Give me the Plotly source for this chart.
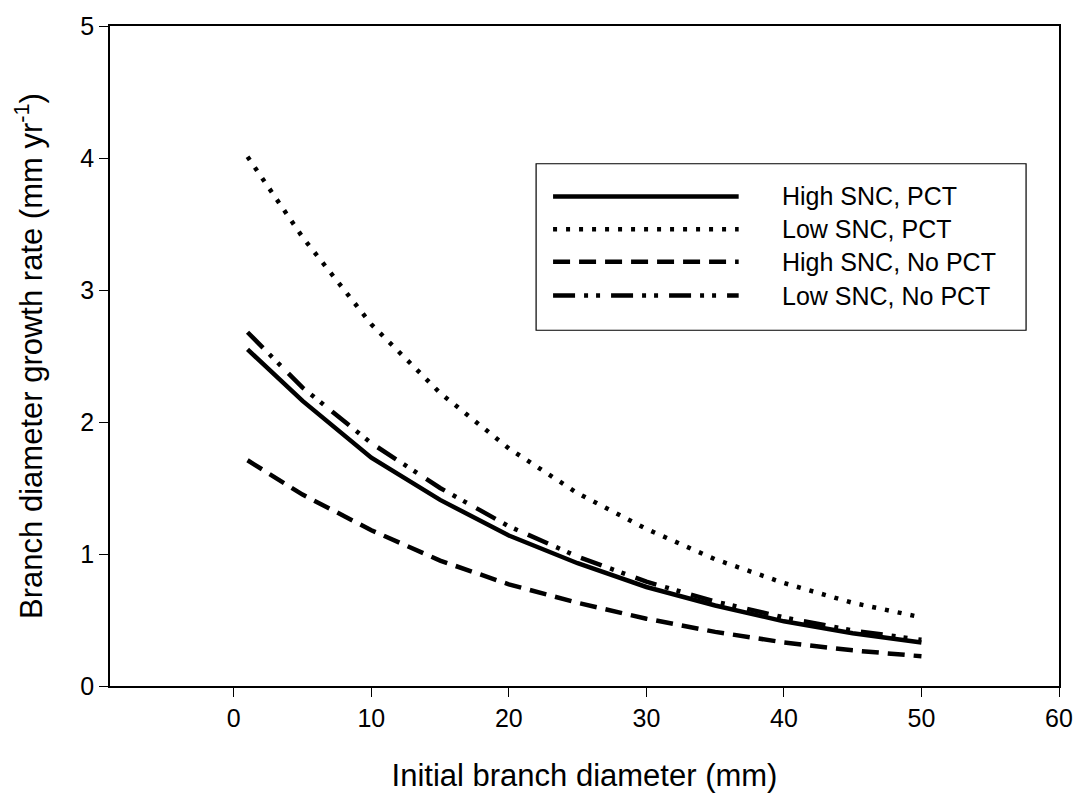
import plotly.graph_objects as go

diameter = [1, 5, 10, 15, 20, 25, 30, 35, 40, 45, 50]
high_snc_pct = [2.55, 2.16, 1.73, 1.41, 1.14, 0.93, 0.75, 0.61, 0.49, 0.40, 0.33]
low_snc_pct = [4.01, 3.40, 2.74, 2.22, 1.80, 1.46, 1.19, 0.96, 0.78, 0.63, 0.52]
high_snc_nopct = [1.71, 1.45, 1.18, 0.95, 0.77, 0.63, 0.51, 0.41, 0.33, 0.27, 0.225]
low_snc_nopct = [2.68, 2.26, 1.84, 1.50, 1.21, 0.98, 0.79, 0.64, 0.52, 0.42, 0.35]

series_names = ["High SNC, PCT", "Low SNC, PCT", "High SNC, No PCT", "Low SNC, No PCT"]
series_values = [high_snc_pct, low_snc_pct, high_snc_nopct, low_snc_nopct]
dashes = ["solid", "4px,9px", "17px,9px", "22px,9px,4px,8px,4px,11px"]
x_ticks = [0, 10, 20, 30, 40, 50, 60]
y_ticks = [0, 1, 2, 3, 4, 5]

FONT = "Liberation Sans, Arial, sans-serif"
fig = go.Figure()
for name, vals, d in zip(series_names, series_values, dashes):
    fig.add_trace(go.Scatter(x=diameter, y=vals, mode="lines", name=name,
                             line=dict(color="black", width=4.5, dash=d),
                             showlegend=False))

# custom legend box (layout element, paper coordinates)
W, H = 1085, 801
ml, mr, mt, mb = 110, 24, 20, 115
pw, ph = W - ml - mr, H - mt - mb
def px(xp):
    return (xp - ml) / pw
def py(yp):
    return 1 - (yp - mt) / ph

fig.add_shape(type="rect", xref="paper", yref="paper",
              x0=px(537), x1=px(1028), y0=py(327), y1=py(159),
              line=dict(color="black", width=1.2), fillcolor="white", layer="above")
rows = [192, 225, 258, 292]
for name, d, ry in zip(series_names, dashes, rows):
    fig.add_shape(type="line", xref="paper", yref="paper",
                  x0=px(554), x1=px(740), y0=py(ry), y1=py(ry),
                  line=dict(color="black", width=4.5, dash=d), layer="above")
    fig.add_annotation(xref="paper", yref="paper", x=px(781), y=py(ry),
                       text=name, showarrow=False, xanchor="left", yanchor="middle",
                       font=dict(family=FONT, size=25, color="black"))

fig.update_layout(
    width=W, height=H,
    margin=dict(l=ml, r=mr, t=mt, b=mb),
    plot_bgcolor="white", paper_bgcolor="white",
    font=dict(family=FONT, color="black"),
    showlegend=False,
)
fig.update_xaxes(range=[-9, 60], tickvals=x_ticks, ticks="outside", ticklen=9,
                 tickwidth=1.2, tickcolor="black", showgrid=False, zeroline=False,
                 showline=True, linecolor="black", linewidth=1.5, mirror=True,
                 tickfont=dict(size=25, family=FONT),
                 title=dict(text="Initial branch diameter (mm)", font=dict(size=31, family=FONT), standoff=34))
fig.update_yaxes(range=[0, 5], tickvals=y_ticks, ticks="outside", ticklen=9,
                 tickwidth=1.2, tickcolor="black", showgrid=False, zeroline=False,
                 showline=True, linecolor="black", linewidth=1.5, mirror=True,
                 tickfont=dict(size=25, family=FONT),
                 title=dict(text="Branch diameter growth rate (mm yr<sup>-1</sup>)",
                            font=dict(size=31, family=FONT), standoff=28))

fig.write_html("out.html")
